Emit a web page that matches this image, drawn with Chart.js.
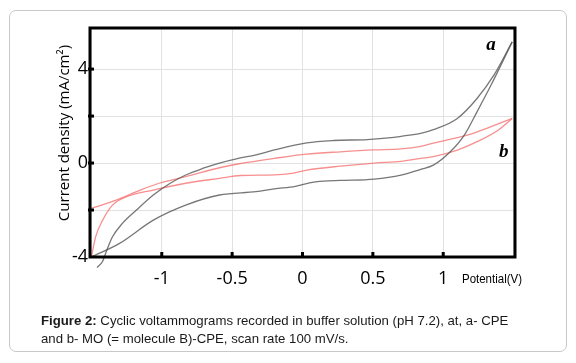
<!DOCTYPE html>
<html lang="en">
<head>
    <meta charset="UTF-8">
    <title>Cyclic voltammograms</title>
    <script src="https://cdn.jsdelivr.net/npm/chart.js"></script>
    <style>
        body { margin: 0; background: #fff; }
        #panel { position: absolute; left: 9px; top: 10px; width: 556px; height: 340px;
                 border: 1px solid #c8c8c8; border-radius: 7px; }
        #chartBox { position: absolute; left: 0; top: 0; width: 576px; height: 363px; }
        #caption { position: absolute; left: 41px; top: 312px; font: 13.2px "Liberation Sans", Arial, sans-serif;
                   line-height: 18px; color: #1a1a1a; white-space: nowrap; }
    </style>
</head>
<body>
    <div id="panel"></div>
    <div id="chartBox"><canvas id="cvChart"></canvas></div>
    <div id="caption"><b>Figure 2:</b> Cyclic voltammograms recorded in buffer solution (pH 7.2), at, a- CPE<br>and b- MO (= molecule B)-CPE, scan rate 100 mV/s.</div>

    <script>
        // a - CPE (black), upper and lower branches of the loop
        const aUpperE = [-1.46, -1.42, -1.39, -1.35, -1.28, -1.18, -1.06, -0.94, -0.83, -0.71, -0.59, -0.47, -0.33, -0.2, 0.03, 0.22, 0.46, 0.63, 0.7, 0.84, 0.93, 1.1, 1.24, 1.36, 1.49];
        const aUpperJ = [-4.45, -4.18, -3.7, -3.14, -2.57, -2.0, -1.36, -0.86, -0.51, -0.23, 0.0, 0.18, 0.35, 0.56, 0.86, 0.96, 1.0, 1.08, 1.14, 1.26, 1.42, 1.9, 2.75, 3.74, 5.16];
        const aLowerE = [-1.5, -1.3, -1.06, -0.83, -0.59, -0.33, -0.2, -0.05, 0.05, 0.15, 0.27, 0.51, 0.7, 0.84, 0.93, 1.05, 1.15, 1.24, 1.34, 1.49];
        const aLowerJ = [-4.0, -3.42, -2.43, -1.79, -1.36, -1.22, -1.1, -0.99, -0.84, -0.77, -0.74, -0.68, -0.51, -0.27, -0.09, 0.48, 1.19, 2.18, 3.32, 5.16];

        // b - MO-CPE (red)
        const bUpperE = [-1.5, -1.4, -1.32, -1.18, -1.02, -0.83, -0.59, -0.45, -0.2, 0.03, 0.27, 0.51, 0.7, 0.84, 0.93, 1.17, 1.34, 1.49];
        const bUpperJ = [-1.93, -1.74, -1.57, -1.22, -0.86, -0.58, -0.2, -0.03, 0.2, 0.38, 0.48, 0.56, 0.6, 0.71, 0.85, 1.19, 1.55, 1.9];
        const bLowerE = [-1.5, -1.47, -1.42, -1.35, -1.25, -1.06, -0.83, -0.59, -0.44, -0.2, -0.09, 0.03, 0.27, 0.51, 0.7, 0.84, 0.93, 1.1, 1.24, 1.39, 1.49];
        const bLowerJ = [-4.0, -3.14, -2.43, -1.79, -1.43, -1.15, -0.86, -0.65, -0.53, -0.5, -0.45, -0.3, -0.13, 0.0, 0.07, 0.2, 0.27, 0.55, 0.91, 1.4, 1.9];

        const xTicks = [-1.5, -1, -0.5, 0, 0.5, 1, 1.5];
        const xTickLabels = [-1, -0.5, 0, 0.5, 1];
        const yTicks = [-4, -2, 0, 2, 4];
        const yTickLabels = [-4, 0, 4];

        const BLACK = 'rgba(85,85,85,0.8)';
        const RED = 'rgba(245,115,115,0.8)';

        function pts(xs, ys) {
            return xs.map((x, i) => ({ x: x, y: ys[i] }));
        }

        function branch(xs, ys, color, clip) {
            return {
                data: pts(xs, ys),
                showLine: true,
                borderColor: color,
                borderWidth: 1.3,
                pointRadius: 0,
                cubicInterpolationMode: 'monotone',
                clip: clip || 1
            };
        }

        // frame, inward tick marks and the small text labels
        const framePlugin = {
            id: 'frame',
            afterDatasetsDraw(chart) {
                const ctx = chart.ctx;
                const a = chart.chartArea;
                const xs = chart.scales.x, ys = chart.scales.y;
                ctx.save();
                ctx.strokeStyle = '#000';
                ctx.lineWidth = 3;
                ctx.strokeRect(a.left, a.top, a.right - a.left, a.bottom - a.top);
                ctx.fillStyle = '#000';
                xTickLabels.forEach(v => {
                    const px = xs.getPixelForValue(v);
                    ctx.fillRect(px - 1.5, a.bottom - 5, 3, 5);
                });
                yTicks.slice(1).forEach(v => {
                    const py = ys.getPixelForValue(v);
                    ctx.fillRect(a.left - 2, py - 1.5, 6, 3);
                });
                ctx.restore();
            },
            afterDraw(chart) {
                const ctx = chart.ctx;
                const xs = chart.scales.x, ys = chart.scales.y;
                ctx.save();
                ctx.fillStyle = '#000';
                ctx.textBaseline = 'middle';
                ctx.textAlign = 'center';
                ctx.font = 'italic bold 19px "Liberation Serif", "Times New Roman", serif';
                ctx.fillText('a', xs.getPixelForValue(1.34), ys.getPixelForValue(5.04));
                ctx.fillText('b', xs.getPixelForValue(1.43), ys.getPixelForValue(0.45));

                // y axis name, sits a little above the middle of the frame
                ctx.save();
                ctx.font = '15px "Open Sans", sans-serif';
                ctx.translate(65, 133);
                ctx.rotate(-Math.PI / 2);
                ctx.fillText('Current density (mA/cm²)', 0, 0);
                ctx.restore();

                // condensed axis name next to the last tick label
                ctx.font = '13px "Liberation Sans", Arial, sans-serif';
                ctx.textAlign = 'left';
                const txt = 'Potential(V)';
                const w = ctx.measureText(txt).width;
                ctx.translate(462, 279);
                ctx.scale(60 / w, 1);
                ctx.fillText(txt, 0, 0);
                ctx.restore();
            }
        };

        const ctx = document.getElementById('cvChart').getContext('2d');
        new Chart(ctx, {
            type: 'scatter',
            data: {
                datasets: [
                    branch(aUpperE, aUpperJ, BLACK, { left: 1, top: 1, right: 1, bottom: 12 }),
                    branch(aLowerE, aLowerJ, BLACK),
                    branch(bUpperE, bUpperJ, RED),
                    branch(bLowerE, bLowerJ, RED)
                ]
            },
            options: {
                responsive: true,
                maintainAspectRatio: false,
                animation: false,
                layout: { padding: { left: 56, top: 28, right: 61, bottom: 66 } },
                plugins: { legend: { display: false }, tooltip: { enabled: false } },
                scales: {
                    x: {
                        type: 'linear',
                        min: -1.51,
                        max: 1.51,
                        afterBuildTicks: s => { s.ticks = xTicks.map(v => ({ value: v })); },
                        afterFit: s => { s.height = 40; },
                        grid: { color: '#e2e2e2', drawTicks: false },
                        border: { display: false },
                        ticks: {
                            autoSkip: false,
                            maxRotation: 0,
                            padding: 11,
                            color: '#000',
                            font: { family: '"Open Sans"', size: 18 },
                            callback: v => xTickLabels.includes(v) ? String(v) : ''
                        }
                    },
                    y: {
                        min: -4,
                        max: 5.75,
                        afterBuildTicks: s => { s.ticks = yTicks.map(v => ({ value: v })); },
                        afterFit: s => { s.width = 34; },
                        grid: { color: '#e2e2e2', drawTicks: false },
                        border: { display: false },
                        ticks: {
                            padding: 2,
                            color: '#000',
                            font: { family: '"Open Sans"', size: 18 },
                            callback: v => yTickLabels.includes(v) ? String(v) : ''
                        }
                    }
                }
            },
            plugins: [framePlugin]
        });
    </script>
</body>
</html>
